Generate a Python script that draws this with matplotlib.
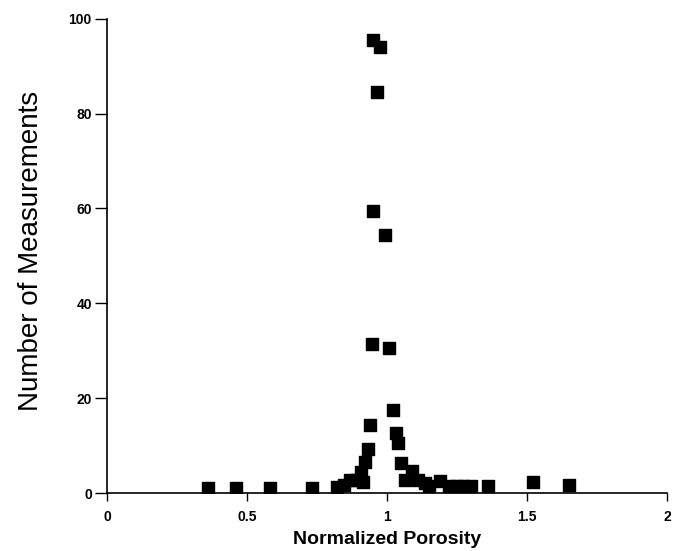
import matplotlib.pyplot as plt

plt.rcParams['font.family'] = ['Liberation Sans', 'DejaVu Sans']

# normalized porosity (bin centres) and number of measurements
porosity = [0.36, 0.46, 0.58, 0.73, 0.82, 0.845, 0.868, 0.89, 0.905, 0.914,
            0.92, 0.93, 0.94, 0.945, 0.95, 0.95, 0.965, 0.975, 0.993, 1.005,
            1.02, 1.03, 1.04, 1.05, 1.065, 1.09, 1.11, 1.135, 1.15, 1.19,
            1.22, 1.25, 1.27, 1.30, 1.36, 1.52, 1.65]
counts = [1, 1, 1, 1, 1.3, 1.7, 2.7, 2.7, 4.5, 2.4,
          6.5, 9.3, 14.3, 31.5, 59.5, 95.5, 84.5, 94, 54.5, 30.5,
          17.5, 12.6, 10.5, 6.4, 2.7, 4.7, 2.7, 2.1, 1.5, 2.5,
          1.5, 1.5, 1.5, 1.5, 1.5, 2.3, 1.7]

x_ticks = [0, 0.5, 1, 1.5, 2]
x_labels = ['0', '0.5', '1', '1.5', '2']
y_ticks = [0, 20, 40, 60, 80, 100]

fig = plt.figure(figsize=(6.78, 5.51), dpi=100)
ax = fig.add_axes([0.158, 0.105, 0.826, 0.861])

ax.scatter(porosity, counts, marker='s', s=70, color='black', zorder=3)

ax.set_xlim(0, 2)
ax.set_ylim(0, 100)
ax.set_xticks(x_ticks)
ax.set_xticklabels(x_labels, fontweight='bold', fontsize=10)
ax.set_yticks(y_ticks)
ax.set_yticklabels([str(v) for v in y_ticks], fontweight='bold', fontsize=10)
ax.tick_params(axis='both', direction='out', width=1, color='black')
ax.tick_params(axis='y', length=9, pad=2)
ax.tick_params(axis='x', length=6, pad=6)

for side in ['top', 'right']:
    ax.spines[side].set_visible(False)
for side in ['left', 'bottom']:
    ax.spines[side].set_linewidth(1.2)

ax.set_xlabel('Normalized Porosity', fontsize=14, fontweight='bold', labelpad=5)
ax.set_ylabel('Number of Measurements', fontsize=20)
ax.yaxis.set_label_coords(-0.112, 0.51)

fig.savefig('out.png', dpi=100)
